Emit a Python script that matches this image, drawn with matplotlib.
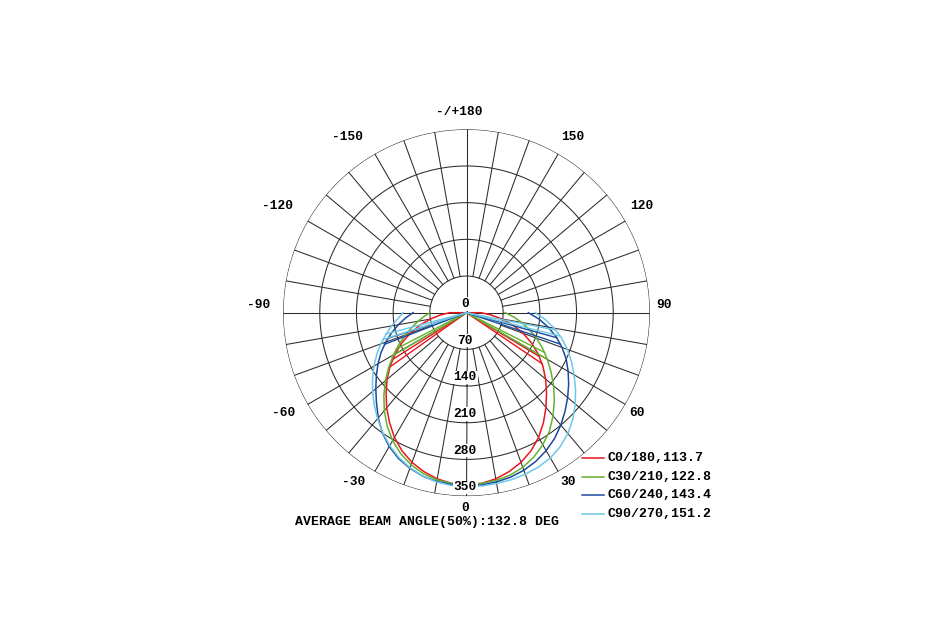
"""Polar luminous intensity diagram (C-planes) rendered to out.png."""
import numpy as np
import matplotlib
matplotlib.use("Agg")
import matplotlib.pyplot as plt
from matplotlib.lines import Line2D

W, H = 948, 624
FONT = ["Liberation Mono", "DejaVu Sans Mono"]

# gamma angles (deg) at which the curves were read
GAMMA = [0, 5, 10, 15, 20, 25, 30, 35, 40, 45, 50, 55, 60, 65, 70, 75, 80, 85, 90]

# intensity per C-plane: right half (C0, C30, C60, C90) and left half (C180 ...)
C0_R   = [328, 327, 322, 314, 304, 291, 275, 256, 236, 216, 197, 178, 158, 137, 115, 92, 68, 46, 28]
C0_L   = [328, 327, 322, 314, 304, 291, 275, 256, 237, 217, 198, 178, 157, 136, 114, 92, 70, 50, 32]
C30_R  = [328, 327, 325, 321, 314, 304, 291, 276, 257, 237, 217, 197, 178, 160, 142, 124, 107, 90, 74]
C30_L  = [328, 327, 324, 318, 309, 297, 282, 264, 244, 223, 202, 181, 161, 142, 124, 108, 94, 81, 70]
C60_R  = [330, 330, 328, 325, 320, 313, 304, 293, 280, 266, 252, 238, 224, 210, 194, 177, 158, 139, 118]
C60_L  = [330, 329, 327, 323, 316, 307, 295, 280, 262, 243, 226, 210, 195, 180, 164, 148, 132, 117, 102]
C90_R  = [332, 332, 331, 330, 328, 325, 320, 312, 301, 287, 271, 254, 237, 221, 205, 188, 170, 151, 131]
C90_L  = [332, 331, 328, 323, 315, 305, 293, 279, 264, 249, 234, 219, 204, 189, 174, 159, 145, 132, 121]

# half beam angles (right, left) -> 50% lines
HALF = {"C0": (57.5, 56.2), "C30": (61.5, 61.3), "C60": (73.0, 70.4), "C90": (77.5, 73.7)}

LABELS = ["C0/180,113.7", "C30/210,122.8", "C60/240,143.4", "C90/270,151.2"]
COLORS = ["#e8161e", "#62b22f", "#1b4a9e", "#6cc8e6"]

RINGS = [70, 140, 210, 280, 350]
ANGLE_LABELS = ["0", "30", "60", "90", "120", "150", "-/+180", "-150", "-120", "-90", "-60", "-30"]
AVG_TEXT = "AVERAGE BEAM ANGLE(50%):132.8 DEG"

GRID = "#2e2a2a"

fig = plt.figure(figsize=(W / 100, H / 100), dpi=100)
cx, cy, R = 466.5, 312.7, 183.4
ax = fig.add_axes([(cx - R) / W, (H - cy - R) / H, 2 * R / W, 2 * R / H],
                  projection="polar")
ax.set_theta_zero_location("S")
ax.set_theta_direction(1)
ax.set_ylim(0, 350)
ax.set_xticks([])
ax.set_yticks([])
ax.grid(False)
ax.spines["polar"].set_visible(False)
ax.patch.set_alpha(0)

# grid circles and spokes
t = np.linspace(0, 2 * np.pi, 721)
for v in RINGS:
    ax.plot(t, np.full_like(t, v), color=GRID, lw=0.75, zorder=1)
for a in range(0, 360, 10):
    r0 = 0 if a % 90 == 0 else RINGS[0]
    ax.plot([np.deg2rad(a)] * 2, [r0, RINGS[-1]], color=GRID, lw=0.75, zorder=1)

# radial value labels
for v in [0] + RINGS:
    ax.annotate(str(v), xy=(0, v), xytext=(-1, 6.3), textcoords="offset points",
                ha="center", va="center", fontsize=9.3, fontweight="bold",
                family=FONT, zorder=3,
                bbox=dict(facecolor="white", edgecolor="none", pad=0.6))

# angle labels, placed around the rim
lab_pos = {"0": (465, 508), "30": (568.5, 482), "60": (637.5, 413), "90": (663.7, 305),
           "120": (641.7, 206), "150": (572.5, 137.3), "-/+180": (459.7, 112.3),
           "-150": (347, 137.3), "-120": (277.7, 206), "-90": (258.7, 305),
           "-60": (284, 413), "-30": (353.5, 482)}
for s in ANGLE_LABELS:
    px, py = lab_pos[s]
    fig.text(px / W, 1 - py / H, s, ha="center", va="center", fontsize=9.3,
             fontweight="bold", family=FONT)

# curves
curves = [("C0", C0_R, C0_L), ("C30", C30_R, C30_L),
          ("C60", C60_R, C60_L), ("C90", C90_R, C90_L)]
g = np.array(GAMMA, dtype=float)
for (key, right, left), col in zip(curves, COLORS):
    right = np.array(right, dtype=float)
    left = np.array(left, dtype=float)
    th = np.deg2rad(np.concatenate([-g[::-1], g[1:]]))
    rr = np.concatenate([left[::-1], right[1:]])
    if key == "C0":
        th = np.concatenate([[th[0]], th, [th[-1]]])
        rr = np.concatenate([[0], rr, [0]])
    ax.plot(th, rr, color=col, lw=1.1, zorder=2)
    hr, hl = HALF[key]
    for half, data, sgn in [(hr, right, 1), (hl, left, -1)]:
        for d in (-1.5, 1.5):
            a = half + d
            ax.plot([0, sgn * np.deg2rad(a)], [0, np.interp(a, g, data)],
                    color=col, lw=1.0, zorder=2)

# legend
for i, (lab, col) in enumerate(zip(LABELS, COLORS)):
    y = 1 - (457.8 + i * 18.7) / H
    fig.add_artist(Line2D([582 / W, 604 / W], [y, y], color=col, lw=1.1))
    fig.text(608 / W, y, lab, ha="left", va="center", fontsize=9.5,
             fontweight="bold", family=FONT)

fig.text(427 / W, 1 - 522.5 / H, AVG_TEXT, ha="center", va="center",
         fontsize=9.5, fontweight="bold", family=FONT)

fig.savefig("out.png", dpi=100)
